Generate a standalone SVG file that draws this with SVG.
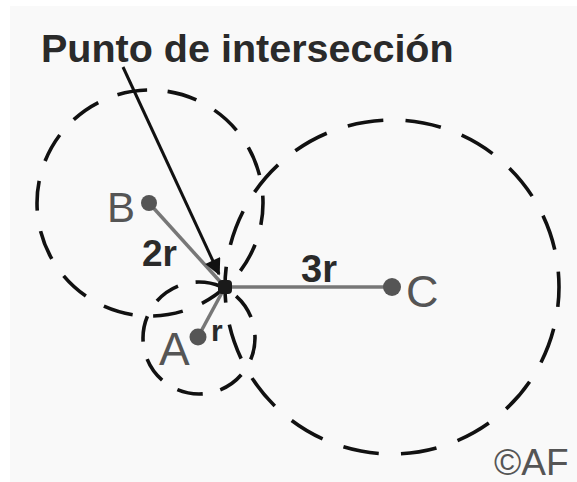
<svg xmlns="http://www.w3.org/2000/svg" width="577" height="482" viewBox="0 0 577 482">
<defs>
<style>
.circ{fill:none;stroke:#111;stroke-width:3.6}
.rad{stroke:#777;stroke-width:3.5;fill:none}
.dot{fill:#555}
.lbl{font-family:"Liberation Sans",Arial,sans-serif;fill:#555}
.bold{font-family:"Liberation Sans",Arial,sans-serif;font-weight:bold;fill:#2a2a2a}
</style>
<marker id="arr" viewBox="0 0 10 10" refX="9" refY="5" markerWidth="6.5" markerHeight="5.5" orient="auto" markerUnits="strokeWidth">
<path d="M0,0 L10,5 L0,10 z" fill="#111"/>
</marker>
</defs>
<rect x="0" y="0" width="577" height="482" fill="#ffffff"/>
<rect x="10" y="6" width="567" height="476" fill="#f9f9f9"/>
<g id="circles">
<circle id="circleC" class="circ" cx="392" cy="287" r="167" stroke-dasharray="36 22.3" stroke-dashoffset="16"/>
<circle id="circleB" class="circ" cx="150" cy="203" r="113" stroke-dasharray="30 20.7" stroke-dashoffset="8"/>
<circle id="circleA" class="circ" cx="199" cy="338" r="56" stroke-dasharray="26 18" stroke-dashoffset="4"/>
</g>
<g id="connectors">
<line class="rad" x1="149" y1="203" x2="225" y2="287"/>
<line class="rad" x1="198" y1="337" x2="225" y2="287"/>
<line class="rad" x1="225" y1="287" x2="392" y2="287" stroke-width="4"/>
<line x1="123" y1="67" x2="219" y2="274" stroke="#111" stroke-width="3" marker-end="url(#arr)"/>
</g>
<g id="nodeB"><circle class="dot" cx="149" cy="203" r="8"/><text class="lbl" x="107" y="222" font-size="42">B</text></g>
<g id="nodeA"><circle class="dot" cx="198" cy="337" r="8.5"/><text class="lbl" x="159" y="365" font-size="46">A</text></g>
<g id="nodeC"><circle class="dot" cx="392" cy="287" r="9"/><text class="lbl" x="406" y="307" font-size="45">C</text></g>
<g id="intersection"><rect x="218" y="280" width="14" height="14" rx="4" fill="#1a1a1a"/></g>
<g id="labels">
<text class="bold" x="41" y="62" font-size="39.5">Punto de intersección</text>
<text class="bold" x="142" y="266" font-size="37">2r</text>
<text class="bold" x="301" y="282" font-size="38">3r</text>
<text class="bold" x="211" y="341" font-size="30">r</text>
<text class="lbl" x="494" y="475" font-size="37" fill="#666">©AF</text>
</g>
</svg>
